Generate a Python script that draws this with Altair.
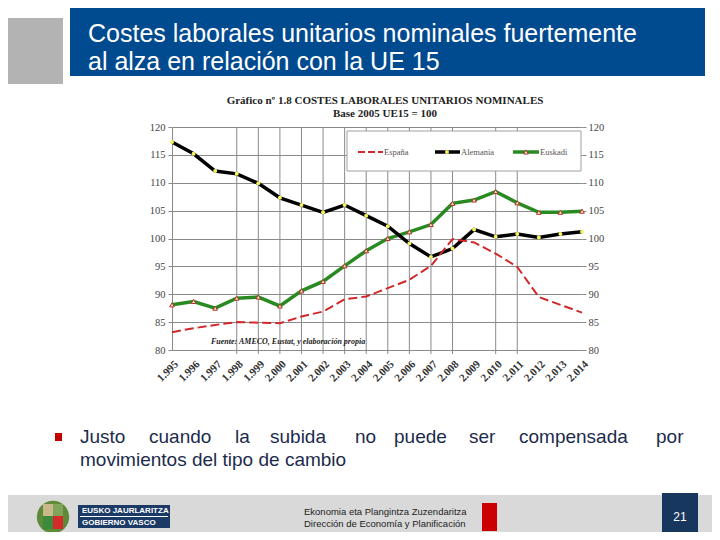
import altair as alt
import pandas as pd

# ---------------- data ----------------
years = list(range(1995, 2015))
espana = [83.2, 83.9, 84.5, 85.0, 84.9, 84.8, 86.0, 86.9, 89.1, 89.6,
          91.1, 92.6, 95.1, 99.9, 99.3, 97.3, 94.9, 89.5, 88.1, 86.7]
alemania = [117.3, 115.2, 112.1, 111.6, 109.9, 107.3, 106.0, 104.7, 106.0, 104.1,
            102.2, 99.1, 96.7, 98.2, 101.6, 100.3, 100.8, 100.2, 100.8, 101.2]
euskadi = [88.1, 88.7, 87.5, 89.3, 89.5, 87.9, 90.6, 92.3, 95.1, 97.8,
           100.0, 101.2, 102.5, 106.3, 106.9, 108.4, 106.4, 104.7, 104.7, 104.9]
series_names = ["España", "Alemania", "Euskadi"]
y_ticks = [80, 85, 90, 95, 100, 105, 110, 115, 120]
grid_years = [1998, 1999, 2000, 2001, 2002, 2003, 2004, 2005, 2006, 2007, 2008, 2010, 2011]

slide_title = ["Costes laborales unitarios nominales fuertemente",
               "al alza en relación con la UE 15"]
chart_title = "Gráfico nº 1.8 COSTES LABORALES UNITARIOS NOMINALES"
chart_subtitle = "Base 2005 UE15 = 100"
source_note = "Fuente: AMECO, Eustat, y elaboración propia"
bullet_words = ["Justo", "cuando", "la", "subida", "no", "puede", "ser", "compensada", "por"]
bullet_word_x = [80, 149, 235, 270, 355, 394, 469, 519, 656]
bullet_line2 = "movimientos del tipo de cambio"
footer_lines = ["Ekonomia eta Plangintza Zuzendaritza", "Dirección de Economía y Planificación"]
logo_lines = ["EUSKO JAURLARITZA", "GOBIERNO VASCO"]
page_number = "21"

# ---------------- layout helpers ----------------
OX, OY = 172, 127          # page position of plot origin
W, H = 410, 223            # plot area
one = pd.DataFrame({"a": [0]})


def px(x):
    return x - OX


def py(y):
    return y - OY


def rect(x1, y1, x2, y2, fill, stroke=None, sw=1):
    kw = dict(color=fill)
    if stroke:
        kw = dict(fill=fill, stroke=stroke, strokeWidth=sw)
    return alt.Chart(one).mark_rect(**kw).encode(
        x=alt.value(px(x1)), x2=alt.value(px(x2)),
        y=alt.value(py(y1)), y2=alt.value(py(y2)))


def txt(s, x, y, size, color, font="Liberation Sans", weight="normal",
        align="left", baseline="middle", style="normal"):
    return alt.Chart(one).mark_text(
        text=s, align=align, baseline=baseline, fontSize=size, font=font,
        fontWeight=weight, fontStyle=style, color=color).encode(
        x=alt.value(px(x)), y=alt.value(py(y)))


def hline(x1, x2, y, color, width, dash=None):
    kw = dict(color=color, strokeWidth=width)
    if dash:
        kw["strokeDash"] = dash
    return alt.Chart(one).mark_rule(**kw).encode(
        x=alt.value(px(x1)), x2=alt.value(px(x2)), y=alt.value(py(y)))


def dot(x, y, size, color, shape="circle", stroke=None):
    kw = dict(shape=shape, size=size, filled=True, fill=color, opacity=1)
    if stroke:
        kw.update(stroke=stroke, strokeWidth=1)
    return alt.Chart(one).mark_point(**kw).encode(x=alt.value(px(x)), y=alt.value(py(y)))


# ---------------- scales / axes ----------------
xscale = alt.Scale(domain=[1995, 2014], nice=False, zero=False)
yscale = alt.Scale(domain=[80, 120], nice=False, zero=False)
GRID = "#8a8a8a"
xaxis = alt.Axis(values=years, labelExpr="replace(format(datum.value, ','), ',', '.')",
                 labelAngle=-45, labelFont="Liberation Serif", labelFontSize=11,
                 labelFontWeight="bold", labelColor="#333333", ticks=False,
                 labelOverlap=False, labelBound=False, labelFlush=False,
                 domain=True, domainColor=GRID, grid=False, title=None, labelPadding=8)
yaxis_left = alt.Axis(values=y_ticks, grid=True, gridColor=GRID, domain=True, domainColor=GRID,
                      ticks=True, tickColor=GRID, tickSize=4, labelFont="Liberation Serif",
                      labelFontSize=10.5, labelColor="#444444", labelPadding=3, title=None)
yaxis_right = alt.Axis(values=y_ticks, orient="right", grid=False, domain=False,
                       ticks=True, tickColor=GRID, tickSize=4, labelFont="Liberation Serif",
                       labelFontSize=10.5, labelColor="#444444", labelPadding=2, title=None)

X = alt.X("year:Q", scale=xscale, axis=xaxis)
Y = alt.Y("value:Q", scale=yscale, axis=yaxis_left)


def sdf(vals):
    return pd.DataFrame({"year": years, "value": vals})


RED, BLACK, GREEN = "#D0282C", "#000000", "#2A8A22"
YEL, TRI_FILL, TRI_STROKE = "#F2F25E", "#F6E6C8", "#B4302A"

grid_layer = alt.Chart(pd.DataFrame({"year": grid_years})).mark_rule(
    color=GRID, strokeWidth=1).encode(x=X, y=alt.value(0), y2=alt.value(H + 4))

green_line = alt.Chart(sdf(euskadi)).mark_line(color=GREEN, strokeWidth=3.5).encode(x=X, y=Y)
black_line = alt.Chart(sdf(alemania)).mark_line(color=BLACK, strokeWidth=3.5).encode(x=X, y=Y)
red_line = alt.Chart(sdf(espana)).mark_line(color=RED, strokeWidth=2, strokeDash=[9, 4]).encode(x=X, y=Y)
black_pts = alt.Chart(sdf(alemania)).mark_point(filled=True, fill=YEL, opacity=1, size=16,
                                                 shape="circle").encode(x=X, y=Y)
green_pts = alt.Chart(sdf(euskadi)).mark_point(shape="triangle-up", filled=True, fill=TRI_FILL,
                                                stroke=TRI_STROKE, strokeWidth=1, opacity=1,
                                                size=22).encode(x=X, y=Y)

series = alt.layer(grid_layer, green_line, black_line, red_line, black_pts, green_pts)

right_axis = alt.Chart(pd.DataFrame({"value": y_ticks})).mark_point(opacity=0).encode(
    x=alt.value(0), y=alt.Y("value:Q", scale=yscale, axis=yaxis_right))

# ---------------- slide decoration ----------------
background = [
    rect(8, 18, 63, 84, "#B3B3B3"),
    rect(70, 8, 705, 76, "#004A8F"),
    txt(slide_title[0], 88, 34, 25, "white"),
    txt(slide_title[1], 88, 62, 25, "white"),
    rect(8, 495, 712, 532, "#D9D9D9"),
]

legend = [
    rect(347, 131, 581, 171, "white", stroke="#A0A0A0"),
    hline(358, 383, 152, RED, 2, [7, 3]),
    txt(series_names[0], 384, 152, 8.5, "#555555", font="Liberation Serif"),
    hline(435, 460, 152, BLACK, 3.5),
    dot(447, 152, 16, YEL),
    txt(series_names[1], 461, 152, 8.5, "#555555", font="Liberation Serif"),
    hline(513, 539, 152, GREEN, 3.5),
    dot(526, 152, 22, TRI_FILL, shape="triangle-up", stroke=TRI_STROKE),
    txt(series_names[2], 540, 152, 8.5, "#555555", font="Liberation Serif"),
]

chart_texts = [
    txt(chart_title, 385, 101, 11, "#222222", font="Liberation Serif", weight="bold", align="center"),
    txt(chart_subtitle, 385, 114, 11, "#222222", font="Liberation Serif", weight="bold", align="center"),
    txt(source_note, 211, 342, 8, "#222222", font="Liberation Serif", weight="bold", style="italic"),
]

bullet = [rect(55, 433, 62, 441, "#C00000")]
for w, xw in zip(bullet_words, bullet_word_x):
    bullet.append(txt(w, xw, 437, 19, "#1C2B4C"))
bullet.append(txt(bullet_line2, 80, 460, 19, "#1C2B4C"))

footer = [
    # coat of arms (approximate)
    alt.Chart(one).mark_circle(size=1050, color="#5F8A38", opacity=1).encode(
        x=alt.value(px(53)), y=alt.value(py(517))),
    rect(43, 504, 53, 516, "#C9B98A"),
    rect(53, 504, 63, 516, "#7FA45A"),
    rect(43, 516, 53, 529, "#3C8A3C"),
    rect(53, 516, 63, 529, "#D42A2A"),
    rect(78, 505, 170, 528, "#1B3A66"),
    hline(80, 168, 516.5, "white", 1),
    txt(logo_lines[0], 82, 511, 8, "white", weight="bold"),
    txt(logo_lines[1], 82, 522.5, 8, "white", weight="bold"),
    txt(footer_lines[0], 304, 512, 9.5, "#222222"),
    txt(footer_lines[1], 304, 524, 9.5, "#222222"),
    rect(482, 503, 497, 531, "#CC0000"),
    rect(662, 493, 698, 532, "#17375E"),
    txt(page_number, 680, 517, 12, "white", align="center"),
]

chart = alt.layer(
    *background, series, right_axis, *legend, *chart_texts, *bullet, *footer
).resolve_scale(y="independent").properties(
    width=W, height=H,
    padding={"left": OX - 8, "top": OY - 8, "right": 704 - (OX - 8) - W, "bottom": 524 - (OY - 8) - H},
    autosize=alt.AutoSizeParams(type="none"),
    background="white",
).configure_view(stroke=None)

chart.save("out.html", embed_options={"renderer": "svg", "actions": False})
